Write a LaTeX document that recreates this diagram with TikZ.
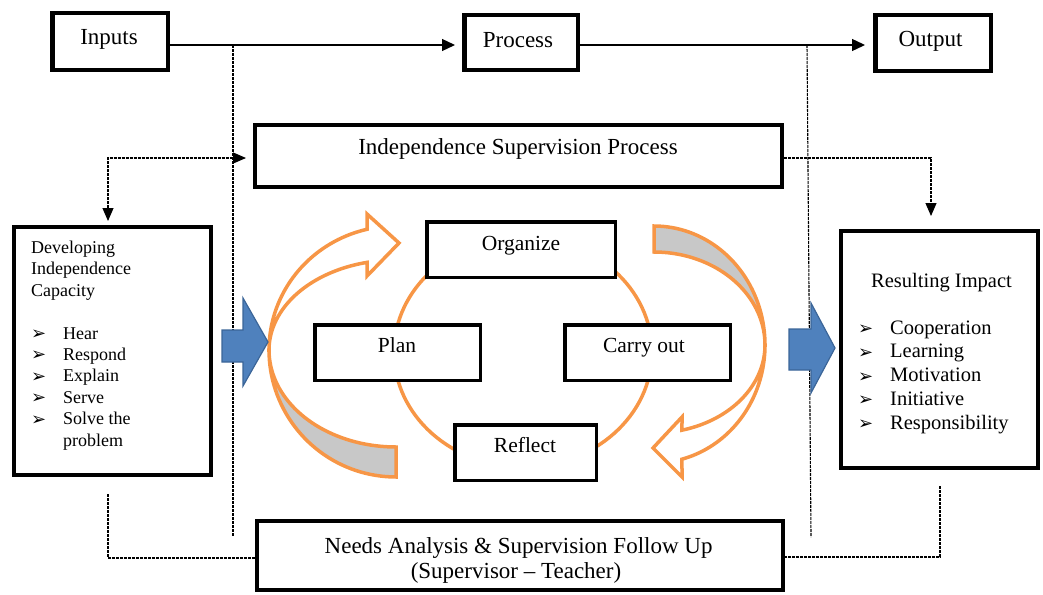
\documentclass[tikz,border=0pt]{standalone}
\usepackage{fontspec}
\setmainfont{Liberation Serif}
\newfontfamily\symf{DejaVu Sans}
\usetikzlibrary{arrows.meta}
\definecolor{orng}{HTML}{F79646}
\definecolor{bandgray}{HTML}{C8C8C8}
\definecolor{bluef}{HTML}{4F81BD}
\definecolor{blued}{HTML}{3B6598}
\newcommand{\bul}{\raisebox{-0.5pt}{\symf\fontsize{18}{18}\selectfont ➢}}
\newcommand{\itm}[1]{\makebox[32pt][l]{\bul}#1}
\begin{document}
\begin{tikzpicture}[x=1pt,y=-1pt,
 box/.style={draw, line width=4pt, fill=white, inner sep=0pt},
 topbox/.style={box, line width=4.5pt},
 midbox/.style={box, line width=3.5pt},
 lbl/.style={inner sep=0pt, anchor=base, font=\fontsize{23}{27}\selectfont},
 mlbl/.style={inner sep=0pt, anchor=base, font=\fontsize{21.5}{25}\selectfont},
 dlbl/.style={inner sep=0pt, anchor=base west, font=\fontsize{18}{21}\selectfont},
 rlbl/.style={inner sep=0pt, anchor=base west, font=\fontsize{20.5}{24}\selectfont},
 conn/.style={line width=1.3pt, -{Triangle[length=13pt,width=12pt]}},
 dconn/.style={line width=1.1pt, dash pattern=on 3pt off 1pt},
 ring/.style={draw=orng, line width=3.5pt},
 bluearrow/.style={fill=bluef, draw=blued, line width=1.2pt, line join=miter}
]
\useasboundingbox (0,0) rectangle (1043,594);

% ---- top row boxes
\node[topbox, minimum width=115.5pt, minimum height=56.5pt] (inputs) at (110,41.5) {};
\node[topbox, minimum width=113.5pt, minimum height=54.5pt] (process) at (521,42.5) {};
\node[topbox, minimum width=115.5pt, minimum height=55.5pt] (output) at (933,43) {};
\node[lbl] (t-in) at (109,45) {Inputs};
\node[lbl] (t-proc) at (518,48) {Process};
\node[lbl] (t-out) at (930.5,47) {Output};

% ---- main boxes
\node[box, minimum width=527pt, minimum height=62pt] (isp) at (518.5,156) {};
\node[lbl] (t-isp) at (518,154) {Independence Supervision Process};
\node[box, minimum width=197pt, minimum height=248pt] (dev) at (112.5,351) {};
\node[box, minimum width=197pt, minimum height=237pt] (res) at (939.5,349.5) {};
\node[box, minimum width=526pt, minimum height=69pt] (needs) at (520,555.5) {};
\node[lbl] (n1) at (518.6,553) {Needs Analysis \& Supervision Follow Up};
\node[lbl] (n2) at (516,578) {(Supervisor – Teacher)};

% ---- top arrows
\draw[conn, shorten >=7pt] (inputs.east |- 0,45) -- (process.west |- 0,45);
\draw[conn, shorten >=8pt] (process.east |- 0,45) -- (output.west |- 0,45);

% ---- dashed lines
\coordinate (vl1) at (233,45);
\coordinate (vl2) at (233,537);
\coordinate (vr1) at (807,45);
\coordinate (vr2) at (811,537);
\draw[dconn] (vl1) -- (vl2);
\draw[dconn] (vr1) -- (vr2);
\draw[dconn, {Triangle[length=13pt,width=11pt]}-{Triangle[length=13pt,width=11pt]}, shorten <=4pt, shorten >=7pt]
  (dev.north -| 108,0) |- (isp.west |- 0,158);
\draw[dconn, -{Triangle[length=13pt,width=11pt]}, shorten >=13pt]
  (isp.east |- 0,158) -| (res.north -| 931,0);
\draw[dconn, shorten <=17pt] (dev.south -| 108,0) |- (needs.west |- 0,558);
\draw[dconn, shorten <=16pt] (res.south -| 940,0) |- (needs.east |- 0,557);

% ---- ring
\draw[ring] (523,352) ellipse [x radius=129, y radius=115];

% ---- left curved arrow
\filldraw[ring, fill=bandgray]
  plot[domain=180:90, samples=40] ({396+127*cos(\x)},{350+127*sin(\x)})
  -- plot[domain=90:180, samples=40] ({396+127*cos(\x)},{350+97*sin(\x)}) -- cycle;
\filldraw[ring, fill=white, line join=miter]
  plot[domain=180:256.8, samples=40] ({396+127*cos(\x)},{350+124*sin(\x)})
  -- (367,214) -- (399,243) -- (367,276)
  -- plot[domain=256.8:180, samples=40] ({396+127*cos(\x)},{350+90*sin(\x)}) -- cycle;

% ---- right curved arrow
\filldraw[ring, fill=bandgray]
  plot[domain=270:360, samples=40] ({654+111*cos(\x)},{345+119*sin(\x)})
  -- plot[domain=360:270, samples=40] ({654+111*cos(\x)},{345+93*sin(\x)}) -- cycle;
\filldraw[ring, fill=white, line join=miter]
  plot[domain=0:75.4, samples=40] ({654+111*cos(\x)},{345+118*sin(\x)})
  -- (682,477) -- (653,448) -- (682,417)
  -- plot[domain=75.4:0, samples=40] ({654+111*cos(\x)},{345+88*sin(\x)}) -- cycle;

% ---- centre boxes
\node[midbox, minimum width=188.5pt, minimum height=55.5pt] (org) at (521,249.5) {};
\node[midbox, minimum width=165.5pt, minimum height=55.5pt] (plan) at (397.5,352.5) {};
\node[midbox, minimum width=165.5pt, minimum height=55.5pt] (carry) at (647.5,352.5) {};
\node[midbox, minimum width=141.5pt, minimum height=55.5pt] (refl) at (525.5,452.5) {};
\node[mlbl] (t-org) at (521,250) {Organize};
\node[mlbl] (t-plan) at (397,352) {Plan};
\node[mlbl] (t-carry) at (644,352) {Carry out};
\node[mlbl] (t-refl) at (525,452) {Reflect};

% ---- blue arrows
\filldraw[bluearrow] (222,330) -- (243,330) -- (243,298) -- (268,342) -- (243,386) -- (243,362) -- (222,362) -- cycle;
\filldraw[bluearrow] (789,329) -- (811,329) -- (811,303) -- (835,348) -- (811,393) -- (811,370) -- (789,370) -- cycle;

% ---- developing text
\node[dlbl] (d1) at (31,253) {Developing};
\node[dlbl] (d2) at (31,274.5) {Independence};
\node[dlbl] (d3) at (31,296) {Capacity};
\node[dlbl] (d4) at (31,339) {\itm{Hear}};
\node[dlbl] (d5) at (31,360.4) {\itm{Respond}};
\node[dlbl] (d6) at (31,381.8) {\itm{Explain}};
\node[dlbl] (d7) at (31,403.2) {\itm{Serve}};
\node[dlbl] (d8) at (31,424.6) {\itm{Solve the}};
\node[dlbl] (d9) at (63,446) {problem};

% ---- resulting text
\node[rlbl] (r0) at (871,287) {Resulting Impact};
\node[rlbl] (r1) at (858,334) {\itm{Cooperation}};
\node[rlbl] (r2) at (858,357.75) {\itm{Learning}};
\node[rlbl] (r3) at (858,381.5) {\itm{Motivation}};
\node[rlbl] (r4) at (858,405.25) {\itm{Initiative}};
\node[rlbl] (r5) at (858,429) {\itm{Responsibility}};
\end{tikzpicture}
\end{document}
